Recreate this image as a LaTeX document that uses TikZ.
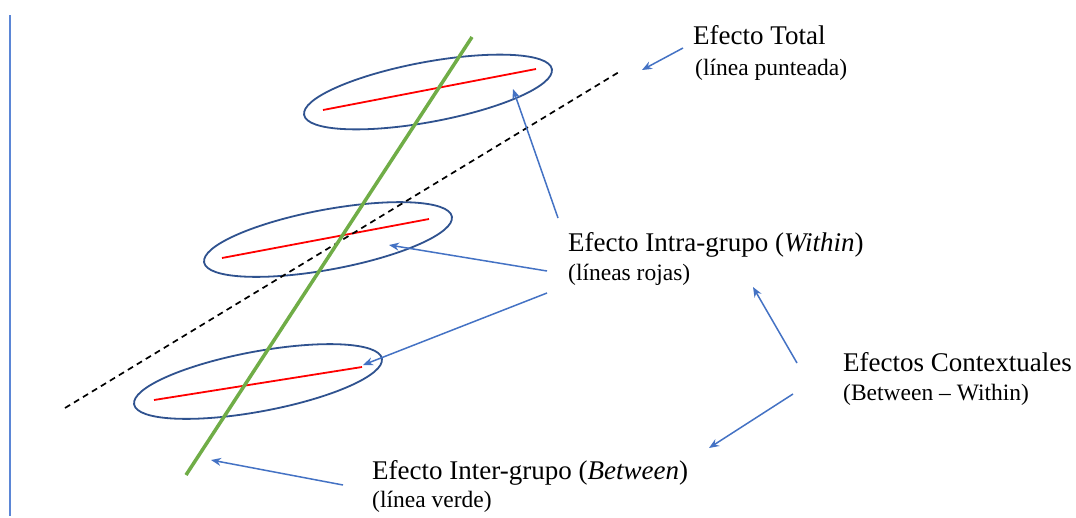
\documentclass[tikz,border=0pt]{standalone}
\usepackage{fontspec}
\setmainfont{Liberation Serif}
\usetikzlibrary{shapes.geometric,arrows.meta}
\definecolor{grpblue}{HTML}{2F528F}
\definecolor{arrblue}{HTML}{4472C4}
\definecolor{axisblue}{HTML}{5B86D6}
\definecolor{btwgreen}{HTML}{70AD47}
\tikzset{
  grp/.style={draw=grpblue, line width=1.8pt, ellipse, inner sep=0pt, minimum width=252pt, minimum height=60pt, rotate=10.5},
  within/.style={draw=red, line width=1.8pt},
  pointer/.style={draw=arrblue, line width=1.5pt, -{Stealth[length=10pt,width=8pt]}},
  lbl/.style={anchor=base west, inner sep=0pt, align=left, font=\fontsize{27}{29}\selectfont},
  sub/.style={anchor=base west, inner sep=0pt, align=left, font=\fontsize{23.5}{26}\selectfont}
}
\begin{document}
\begin{tikzpicture}[x=1pt,y=-1pt]
\useasboundingbox[fill=white] (0,0) rectangle (1076,517);
% axis
\coordinate (ax1) at (10,15);
\coordinate (ax2) at (10,516);
\draw[axisblue, line width=2pt] (ax1) -- (ax2);
% ellipses
\node[grp] (e1) at (428,92) {};
\node[grp] (e2) at (328,239.5) {};
\node[grp] (e3) at (258,381.5) {};
% red within lines
\coordinate (r1a) at (323,110); \coordinate (r1b) at (536,69);
\coordinate (r2a) at (222,258); \coordinate (r2b) at (429,219);
\coordinate (r3a) at (154,400); \coordinate (r3b) at (362,367);
\draw[within] (r1a) -- (r1b);
\draw[within] (r2a) -- (r2b);
\draw[within] (r3a) -- (r3b);
% dashed total
\coordinate (d1) at (65,408); \coordinate (d2) at (619,72);
\draw[black, line width=1.7pt, dash pattern=on 6pt off 4.5pt] (d1) -- (d2);
% green between
\coordinate (g1) at (186,475); \coordinate (g2) at (472,37);
\draw[btwgreen, line width=3.5pt] (g1) -- (g2);
% labels
\node[lbl] (tTot) at (693,44) {Efecto Total};
\node[sub] (tTot2) at (695,75) {(línea punteada)};
\node[lbl] (tIntra) at (568,251) {Efecto Intra-grupo (\textit{Within})};
\node[sub] (tIntra2) at (568,280) {(líneas rojas)};
\node[lbl] (tCtx) at (843,371) {Efectos Contextuales};
\node[sub] (tCtx2) at (843,400) {(Between – Within)};
\node[lbl] (tInter) at (372,479) {Efecto Inter-grupo (\textit{Between})};
\node[sub] (tInter2) at (372,507) {(línea verde)};
% arrows
\coordinate (aT0) at (683,48); \coordinate (aT1) at (642,70);
\coordinate (aI0) at (558,218); \coordinate (aI1) at (513,89);
\coordinate (aJ0) at (547,271); \coordinate (aJ1) at (389,245);
\coordinate (aK0) at (547,293); \coordinate (aK1) at (363,365);
\coordinate (aC0) at (797,363); \coordinate (aC1) at (753,287);
\coordinate (aD0) at (793,394); \coordinate (aD1) at (709,448);
\coordinate (aB0) at (343,485); \coordinate (aB1) at (211,460);
\draw[pointer] (aT0) -- (aT1);
\draw[pointer] (aI0) -- (aI1);
\draw[pointer] (aJ0) -- (aJ1);
\draw[pointer] (aK0) -- (aK1);
\draw[pointer] (aC0) -- (aC1);
\draw[pointer] (aD0) -- (aD1);
\draw[pointer] (aB0) -- (aB1);
\end{tikzpicture}
\end{document}
